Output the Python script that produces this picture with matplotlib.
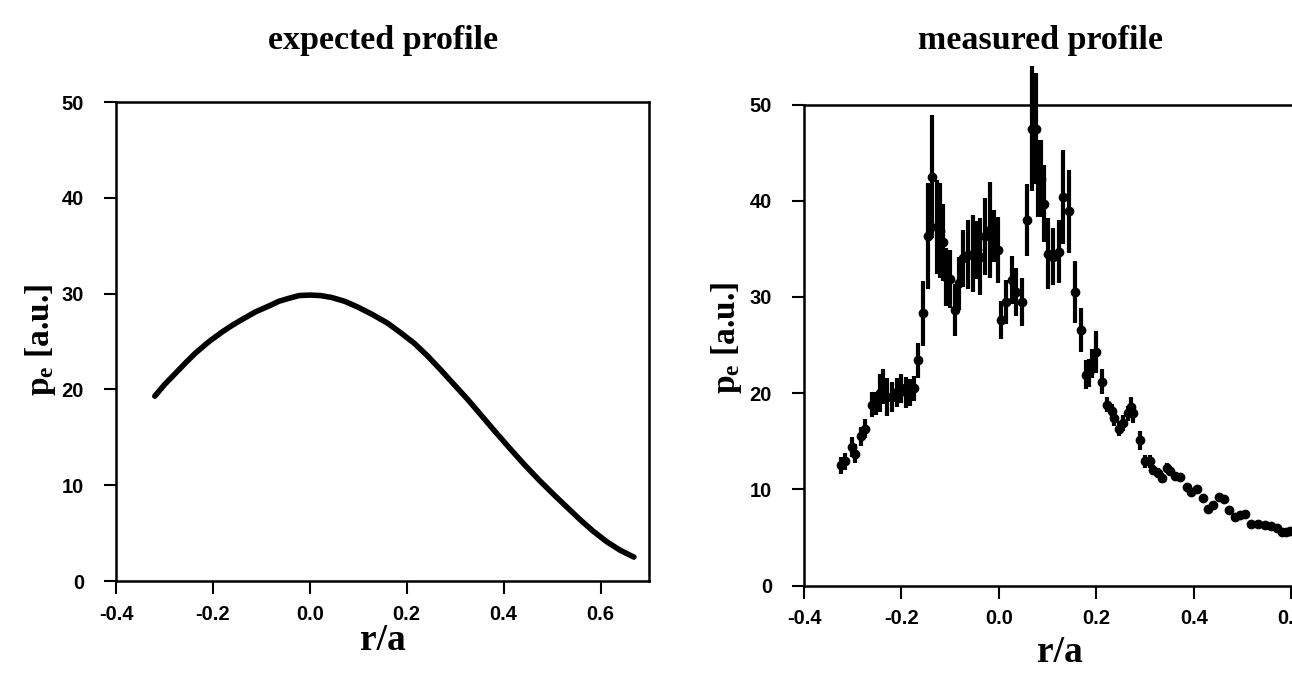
import numpy as np
import matplotlib.pyplot as plt

# expected profile: points (left panel)
r_exp = [-0.320, -0.300, -0.277, -0.256, -0.236, -0.208, -0.181, -0.160, -0.140, -0.112,
         -0.085, -0.064, -0.044, -0.022, 0.000, 0.022, 0.045, 0.072, 0.099, 0.130,
         0.161, 0.188, 0.216, 0.243, 0.271, 0.298, 0.326, 0.353, 0.380, 0.411,
         0.442, 0.473, 0.504, 0.531, 0.558, 0.585, 0.613, 0.641, 0.669]
p_exp = [19.3, 20.5, 21.7, 22.8, 23.8, 25.0, 26.0, 26.7, 27.3, 28.1,
         28.7, 29.2, 29.5, 29.8, 29.85, 29.8, 29.6, 29.2, 28.6, 27.8,
         26.9, 25.9, 24.8, 23.5, 22.0, 20.5, 18.95, 17.35, 15.75, 13.95,
         12.2, 10.55, 9.0, 7.7, 6.4, 5.2, 4.1, 3.2, 2.5]

# measured profile with error bars (right panel)
r_meas = [-0.325, -0.316, -0.302, -0.295, -0.283, -0.274, -0.261, -0.252, -0.244, -0.237,
          -0.229, -0.220, -0.210, -0.200, -0.191, -0.183, -0.174, -0.166, -0.155, -0.146,
          -0.137, -0.128, -0.120, -0.114, -0.108, -0.101, -0.090, -0.081, -0.073, -0.063,
          -0.053, -0.046, -0.038, -0.029, -0.018, -0.010, -0.001, 0.005, 0.015, 0.026,
          0.036, 0.047, 0.058, 0.067, 0.076, 0.080, 0.087, 0.093, 0.101, 0.111,
          0.124, 0.132, 0.144, 0.157, 0.168, 0.178, 0.185, 0.190, 0.200, 0.211,
          0.222, 0.231, 0.237, 0.246, 0.254, 0.265, 0.270, 0.276, 0.289, 0.300,
          0.310, 0.317, 0.327, 0.334, 0.344, 0.352, 0.361, 0.371, 0.385, 0.395,
          0.407, 0.418, 0.429, 0.439, 0.452, 0.461, 0.472, 0.484, 0.494, 0.505,
          0.518, 0.532, 0.546, 0.559, 0.570, 0.580, 0.590, 0.598]
p_meas = [12.5, 12.9, 14.4, 13.7, 15.5, 16.3, 18.8, 18.9, 20.0, 20.7,
          19.6, 19.6, 20.1, 20.5, 20.1, 20.1, 20.5, 23.4, 28.3, 36.3,
          42.5, 37.3, 36.9, 35.7, 32.1, 31.9, 28.6, 31.4, 34.0, 34.4,
          34.5, 34.9, 34.2, 36.3, 37.0, 36.3, 34.9, 27.6, 29.5, 31.8,
          30.5, 29.5, 38.0, 47.5, 47.5, 42.3, 42.3, 39.7, 34.5, 34.2,
          34.7, 40.4, 38.9, 30.5, 26.6, 21.9, 22.1, 23.1, 24.3, 21.2,
          18.8, 18.1, 17.4, 16.3, 16.9, 17.9, 18.6, 17.9, 15.1, 12.9,
          12.9, 12.0, 11.7, 11.2, 12.2, 11.9, 11.4, 11.3, 10.2, 9.75,
          10.0, 9.06, 8.0, 8.4, 9.2, 9.0, 7.9, 7.15, 7.3, 7.4,
          6.4, 6.4, 6.3, 6.2, 5.95, 5.6, 5.6, 5.7]
p_err = [0.9, 0.9, 1.0, 1.0, 1.0, 1.0, 1.3, 1.2, 2.0, 1.8,
         2.0, 1.6, 1.5, 1.5, 1.6, 1.4, 1.3, 1.8, 3.4, 5.5,
         6.4, 4.9, 4.9, 4.0, 3.0, 3.0, 2.7, 2.8, 3.0, 3.6,
         4.0, 3.0, 4.0, 4.0, 5.0, 2.7, 3.4, 2.0, 2.3, 2.5,
         2.5, 2.5, 3.7, 6.5, 5.8, 4.0, 4.0, 4.0, 3.7, 3.0,
         3.3, 4.9, 4.3, 3.2, 2.3, 1.5, 1.5, 1.5, 2.2, 1.3,
         0.8, 0.8, 0.8, 0.8, 0.8, 0.8, 1.0, 1.0, 1.0, 0.7,
         0.7, 0.5, 0.5, 0.5, 0.5, 0.5, 0.4, 0.4, 0.4, 0.3,
         0.3, 0.3, 0.3, 0.3, 0.3, 0.3, 0.3, 0.3, 0.3, 0.3,
         0.2, 0.2, 0.2, 0.2, 0.2, 0.2, 0.2, 0.2]

xticks = [-0.4, -0.2, 0.0, 0.2, 0.4, 0.6]
xlabels = ['-0.4', '-0.2', '0.0', '0.2', '0.4', '0.6']
yticks = [0, 10, 20, 30, 40, 50]
ylabels = ['0', '10', '20', '30', '40', '50']

plt.rcParams['font.family'] = 'Liberation Sans'
plt.rcParams['mathtext.fontset'] = 'custom'
plt.rcParams['mathtext.rm'] = 'Liberation Serif:bold'
plt.rcParams['mathtext.bf'] = 'Liberation Serif:bold'
plt.rcParams['mathtext.it'] = 'Liberation Serif:bold'
plt.rcParams['axes.unicode_minus'] = False

fig = plt.figure(figsize=(12.92, 6.78), dpi=100)
ax1 = fig.add_axes([0.0898, 0.143, 0.4125, 0.7065])
ax2 = fig.add_axes([0.6223, 0.1364, 0.4149, 0.7094])

ax1.plot(r_exp, p_exp, color='black', lw=4, solid_capstyle='round',
         solid_joinstyle='round')
eb = ax2.errorbar(r_meas, p_meas, yerr=p_err, fmt='o', color='black', ms=6,
                  elinewidth=3, capsize=0)
# the tallest bar pokes above the frame in the original
for art in eb.lines[2]:
    art.set_clip_on(False)

for ax in (ax1, ax2):
    ax.set_xlim(-0.4, 0.7)
    ax.set_ylim(0, 50)
    ax.set_xticks(xticks)
    ax.set_xticklabels(xlabels)
    ax.set_yticks(yticks)
    ax.set_yticklabels(ylabels)
    ax.tick_params(direction='out', length=9, width=1.5, labelsize=14.5, pad=8)
    ax.tick_params(axis='y', pad=14)
    for lab in ax.get_xticklabels() + ax.get_yticklabels():
        lab.set_fontweight('bold')
    for s in ax.spines.values():
        s.set_linewidth(1.8)

title_kw = dict(fontsize=24.5, fontweight='bold', family='Liberation Serif',
                ha='center', va='center')
fig.text(383 / 1292, 1 - 40 / 678, 'expected profile', **title_kw)
fig.text(1041 / 1292, 1 - 40 / 678, 'measured profile', **title_kw)

lab_kw = dict(fontsize=27, fontweight='bold', family='Liberation Serif',
              ha='center', va='center')
fig.text(383 / 1292, 1 - 641 / 678, 'r/a', **lab_kw)
fig.text(1060 / 1292, 1 - 652 / 678, 'r/a', **lab_kw)
ylab_kw = dict(lab_kw, fontsize=24, rotation=90)
fig.text(41 / 1292, 1 - 340 / 678, r'p$_\mathbf{e}$ [a.u.]', **ylab_kw)
fig.text(726 / 1292, 1 - 338 / 678, r'p$_\mathbf{e}$ [a.u.]', **ylab_kw)

fig.savefig('out.png', dpi=100)
